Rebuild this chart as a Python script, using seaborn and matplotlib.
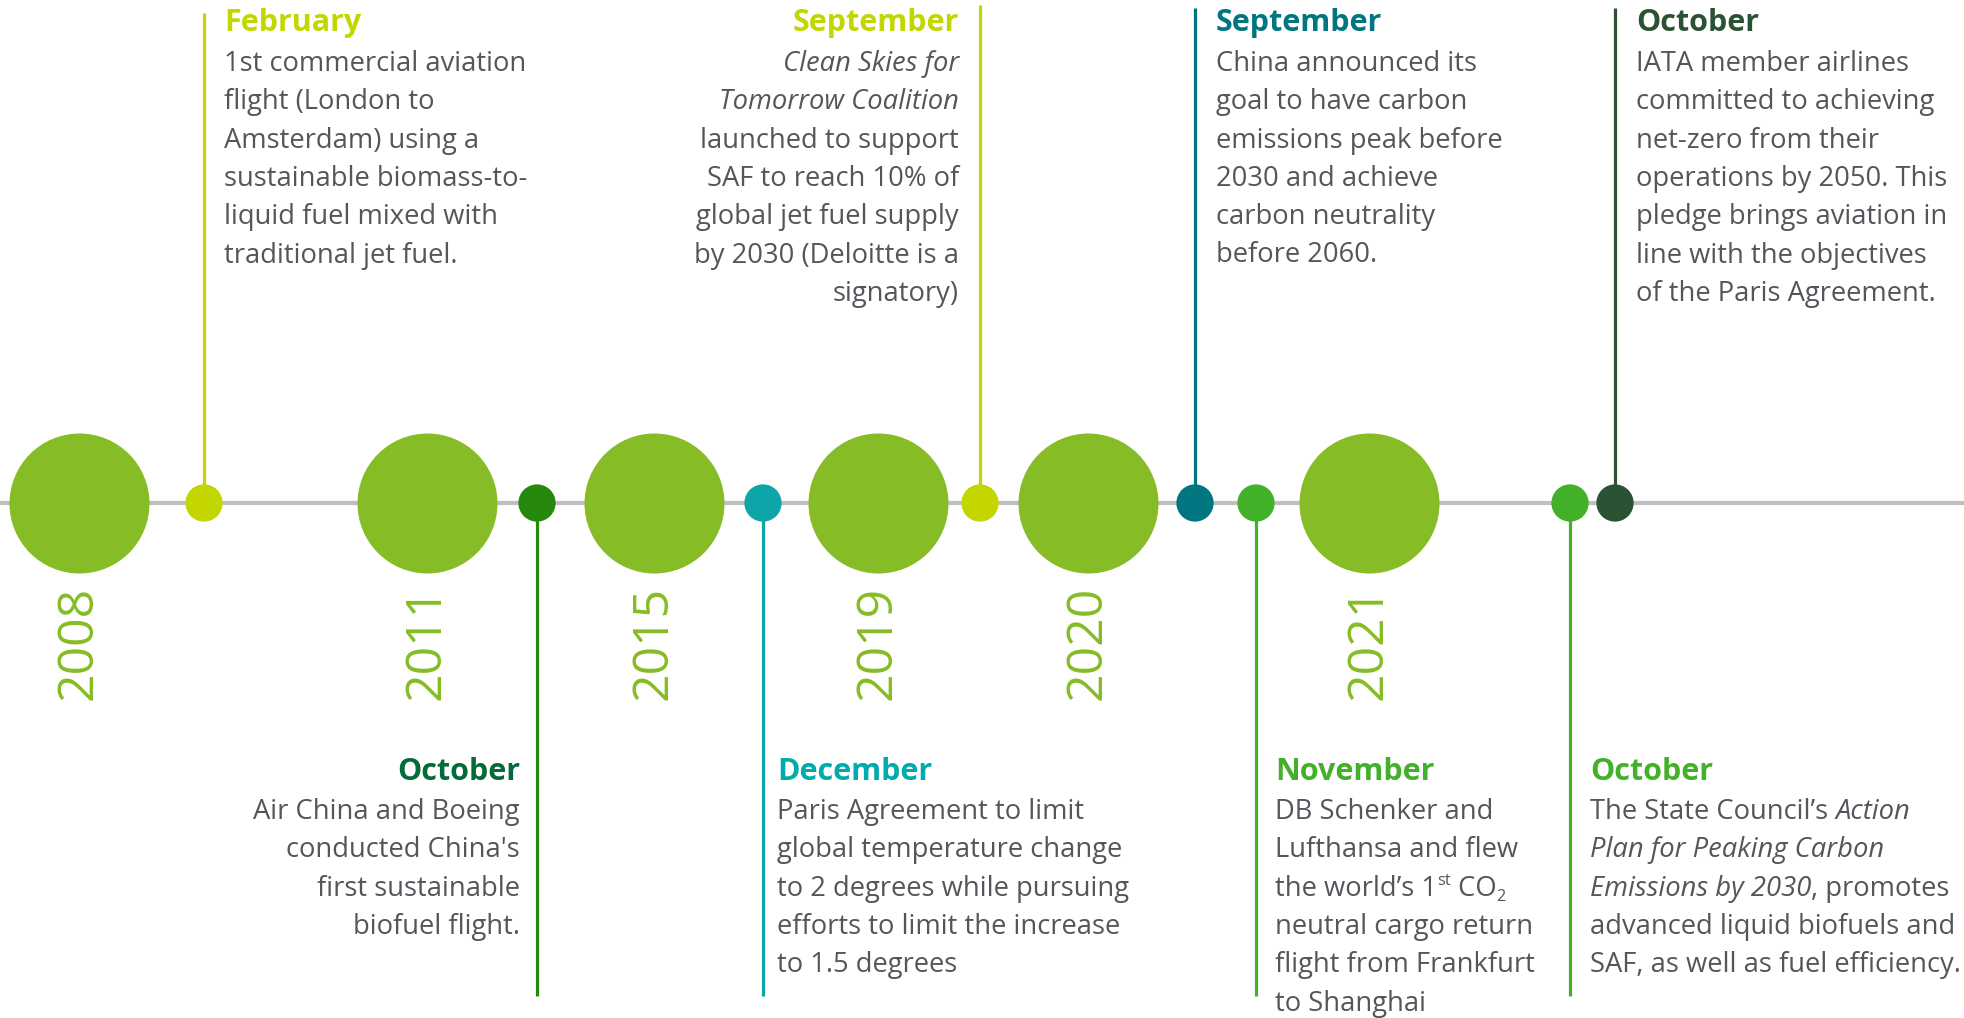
import matplotlib
matplotlib.use('Agg')
import matplotlib.pyplot as plt
import seaborn as sns
import pandas as pd

# years shown as big circles on the timeline
years = ['2008', '2011', '2015', '2019', '2020', '2021']

# events (small dots), in order along the timeline
months = ['February', 'October', 'December', 'September',
          'September', 'November', 'October', 'October']
sides = ['top', 'bottom', 'bottom', 'top', 'top', 'bottom', 'bottom', 'top']
aligns = ['left', 'right', 'left', 'right', 'left', 'left', 'left', 'left']
dot_colors = ['#C4D600', '#26890D', '#0DA5A8', '#C4D600',
              '#007680', '#43B02A', '#43B02A', '#2C5234']
title_colors = ['#C4D600', '#046A38', '#00ABAB', '#C4D600',
                '#007680', '#43B02A', '#43B02A', '#2C5234']

# body text, one list of runs per line: (text, style)
texts = [
    [[('1st commercial aviation', 'n')],
     [('flight (London to', 'n')],
     [('Amsterdam) using a', 'n')],
     [('sustainable biomass-to-', 'n')],
     [('liquid fuel mixed with', 'n')],
     [('traditional jet fuel.', 'n')]],
    [[('Air China and Boeing', 'n')],
     [("conducted China's", 'n')],
     [('first sustainable', 'n')],
     [('biofuel flight.', 'n')]],
    [[('Paris Agreement to limit', 'n')],
     [('global temperature change', 'n')],
     [('to 2 degrees while pursuing', 'n')],
     [('efforts to limit the increase', 'n')],
     [('to 1.5 degrees', 'n')]],
    [[('Clean Skies for', 'i')],
     [('Tomorrow Coalition', 'i')],
     [('launched to support', 'n')],
     [('SAF to reach 10% of', 'n')],
     [('global jet fuel supply', 'n')],
     [('by 2030 (Deloitte is a', 'n')],
     [('signatory)', 'n')]],
    [[('China announced its', 'n')],
     [('goal to have carbon', 'n')],
     [('emissions peak before', 'n')],
     [('2030 and achieve', 'n')],
     [('carbon neutrality', 'n')],
     [('before 2060.', 'n')]],
    [[('DB Schenker and', 'n')],
     [('Lufthansa and flew', 'n')],
     [('the world\u2019s 1', 'n'), ('st', 'sup'), (' CO', 'n'), ('2', 'sub')],
     [('neutral cargo return', 'n')],
     [('flight from Frankfurt', 'n')],
     [('to Shanghai', 'n')]],
    [[('The State Council\u2019s ', 'n'), ('Action', 'i')],
     [('Plan for Peaking Carbon', 'i')],
     [('Emissions by 2030', 'i'), (', promotes', 'n')],
     [('advanced liquid biofuels and', 'n')],
     [('SAF, as well as fuel efficiency.', 'n')]],
    [[('IATA member airlines', 'n')],
     [('committed to achieving', 'n')],
     [('net-zero from their', 'n')],
     [('operations by 2050. This', 'n')],
     [('pledge brings aviation in', 'n')],
     [('line with the objectives', 'n')],
     [('of the Paris Agreement.', 'n')]],
]

# layout (pixel coordinates of the 1964x1018 canvas)
W, H = 1964, 1018
LINE_Y = 503
year_x = [79, 427, 654, 878, 1088, 1369]
event_x = [204, 537, 763, 980, 1195, 1256, 1570, 1615]
text_x = [224, 520, 777, 959, 1216, 1275, 1590, 1636]
stem_top = [13, None, None, 5, 8, None, None, 8]
STEM_BOTTOM = 996
GREEN = '#86BC25'
BODY = '#53565A'

sns.set_style('white')
plt.rcParams['font.family'] = ['Open Sans', 'DejaVu Sans']

fig = plt.figure(figsize=(W / 100, H / 100), dpi=100)
ax = fig.add_axes([0, 0, 1, 1])

ax.axhline(LINE_Y, color='#BFBFBF', lw=3, zorder=1)

# stems
for i, x in enumerate(event_x):
    if sides[i] == 'top':
        ax.vlines(x, stem_top[i], LINE_Y, color=dot_colors[i], lw=2.3, zorder=2)
    else:
        ax.vlines(x, LINE_Y, STEM_BOTTOM, color=dot_colors[i], lw=2.3, zorder=2)

# big year circles
df_years = pd.DataFrame({'x': year_x, 'y': [LINE_Y] * len(years), 'year': years})
sns.scatterplot(data=df_years, x='x', y='y', s=10160, color=GREEN,
                linewidth=0, ax=ax, zorder=3, legend=False)

# small event dots
df_ev = pd.DataFrame({'x': event_x, 'y': [LINE_Y] * len(months),
                      'ev': [f'{m} {i}' for i, m in enumerate(months)]})
sns.scatterplot(data=df_ev, x='x', y='y', hue='ev', palette=dot_colors, s=720,
                linewidth=0, ax=ax, zorder=4, legend=False)
ax.set_xlim(0, W)
ax.set_ylim(H, 0)
ax.axis('off')

for x, yr in zip(year_x, years):
    ax.text(x, 700, yr, rotation=90, ha='center', va='bottom', fontsize=36,
            color=GREEN)

BODY_SIZE = 19.7
TITLE_SIZE = 22
renderer = fig.canvas.get_renderer()


def run_kw(style):
    kw = dict(fontsize=BODY_SIZE, color=BODY, fontstyle='normal')
    if style == 'i':
        kw['fontstyle'] = 'italic'
    if style in ('sup', 'sub'):
        kw['fontsize'] = BODY_SIZE * 0.6
    return kw


def width(s, style):
    t1 = ax.text(0, 0, s + '|', **run_kw(style))
    t2 = ax.text(0, 0, '|', **run_kw(style))
    w = t1.get_window_extent(renderer).width - t2.get_window_extent(renderer).width
    t1.remove()
    t2.remove()
    return w


def draw_line(x, y, runs, ha):
    if len(runs) == 1:
        ax.text(x, y, runs[0][0], ha=ha, va='baseline', **run_kw(runs[0][1]))
        return
    total = sum(width(s, st) for s, st in runs)
    cx = x if ha == 'left' else x - total
    for s, st in runs:
        dy = 0
        if st == 'sup':
            dy = -BODY_SIZE * 100 / 72 * 0.38
        elif st == 'sub':
            dy = BODY_SIZE * 100 / 72 * 0.2
        ax.text(cx, y + dy, s, ha='left', va='baseline', **run_kw(st))
        cx += width(s, st)


for i in range(len(months)):
    if sides[i] == 'top':
        title_base, body_base = 31, 71
    else:
        title_base, body_base = 780, 819
    ax.text(text_x[i], title_base, months[i], ha=aligns[i], va='baseline',
            fontsize=TITLE_SIZE, fontweight='bold', color=title_colors[i])
    for k, runs in enumerate(texts[i]):
        draw_line(text_x[i], body_base + 38.3 * k, runs, aligns[i])

fig.savefig('out.png', dpi=100, facecolor='white')
